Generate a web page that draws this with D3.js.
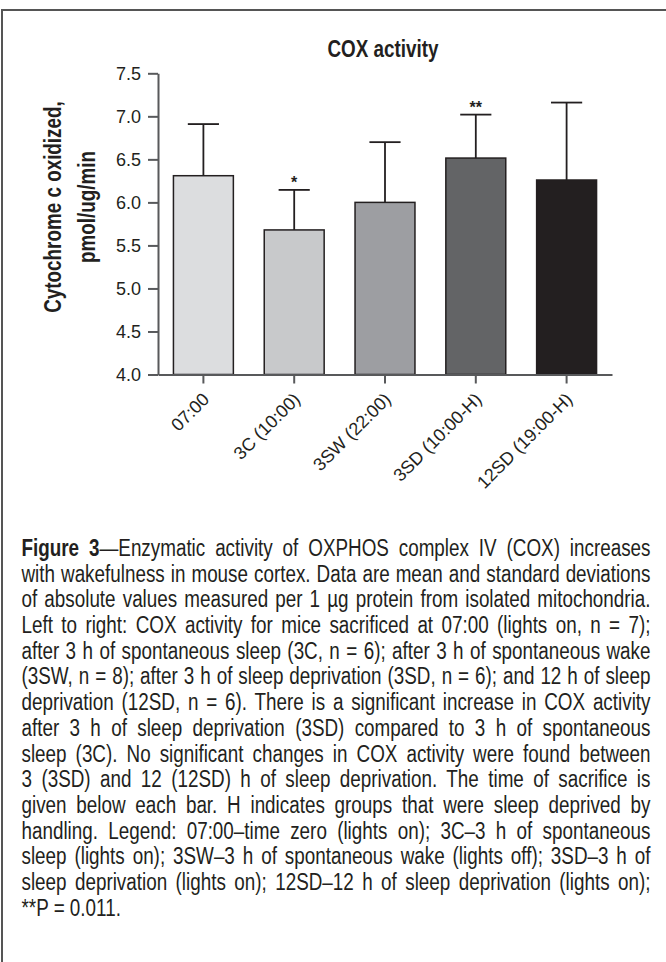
<!DOCTYPE html>
<html>
<head>
<meta charset="utf-8">
<script src="https://cdn.jsdelivr.net/npm/d3@7"></script>
<style>
  body { margin: 0; background: #fff; }
  svg { display: block; }
</style>
</head>
<body>
<div id="chart"></div>
<script>
// data
const groups = ["07:00", "3C (10:00)", "3SW (22:00)", "3SD (10:00-H)", "12SD (19:00-H)"];
const means = [6.31, 5.68, 6.00, 6.515, 6.26];
const sds = [0.60, 0.465, 0.70, 0.505, 0.90];
const stars = ["", "*", "", "**", ""];
const yTicks = [4.0, 4.5, 5.0, 5.5, 6.0, 6.5, 7.0, 7.5];
const captionLines = [
  "Figure 3\u2014Enzymatic activity of OXPHOS complex IV (COX) increases",
  "with wakefulness in mouse cortex. Data are mean and standard deviations",
  "of absolute values measured per 1 \u00b5g protein from isolated mitochondria.",
  "Left to right: COX activity for mice sacrificed at 07:00 (lights on, n = 7);",
  "after 3 h of spontaneous sleep (3C, n = 6); after 3 h of spontaneous wake",
  "(3SW, n = 8); after 3 h of sleep deprivation (3SD, n = 6); and 12 h of sleep",
  "deprivation (12SD, n = 6). There is a significant increase in COX activity",
  "after 3 h of sleep deprivation (3SD) compared to 3 h of spontaneous",
  "sleep (3C). No significant changes in COX activity were found between",
  "3 (3SD) and 12 (12SD) h of sleep deprivation. The time of sacrifice is",
  "given below each bar. H indicates groups that were sleep deprived by",
  "handling. Legend: 07:00\u2013time zero (lights on); 3C\u20133 h of spontaneous",
  "sleep (lights on); 3SW\u20133 h of spontaneous wake (lights off); 3SD\u20133 h of",
  "sleep deprivation (lights on); 12SD\u201312 h of sleep deprivation (lights on);",
  "**P = 0.011."
];

const barColors = ["#dcdddf", "#c8c9cb", "#9d9ea2", "#636466", "#231f20"];
const ink = "#231f20";
const axisColor = "#58595b";
const W = 666, H = 962;
const font = "'Liberation Sans', Arial, sans-serif";

function hasFont(name) {
  const c = document.createElement("canvas").getContext("2d");
  const s = "abcdefghijklmnopqrstuvwxyz0123456789";
  c.font = "40px monospace";
  const a = c.measureText(s).width;
  c.font = `40px '${name}', monospace`;
  return c.measureText(s).width !== a;
}
const narrow = hasFont("Liberation Sans Narrow");
const narrowFont = "'Liberation Sans Narrow', 'Arial Narrow', sans-serif";
const sx = narrow ? 1 : 0.82;

const svg = d3.select("#chart").append("svg")
  .attr("width", W)
  .attr("height", H)
  .style("font-family", font);

// figure frame (top and left edges visible)
svg.append("path")
  .attr("d", `M2,${H} V10 H${W}`)
  .attr("fill", "none")
  .attr("stroke", "#555")
  .attr("stroke-width", 2);

const x = d3.scaleBand()
  .domain(groups)
  .range([158, 612])
  .paddingInner(0.34)
  .paddingOuter(0.17);

const y = d3.scaleLinear()
  .domain([4, 7.5])
  .range([374.5, 73.3]);

// bars
svg.append("g").selectAll("rect")
  .data(groups)
  .join("rect")
    .attr("x", d => x(d))
    .attr("y", (d, i) => y(means[i]))
    .attr("width", x.bandwidth())
    .attr("height", (d, i) => y(4) - y(means[i]))
    .attr("fill", (d, i) => barColors[i])
    .attr("stroke", ink)
    .attr("stroke-width", 1.5);

// error bars (upper only)
const capHalf = x.bandwidth() * 0.26;
const err = svg.append("g").attr("stroke", ink).attr("stroke-width", 1.8);
groups.forEach((g, i) => {
  const cx = x(g) + x.bandwidth() / 2;
  err.append("line")
    .attr("x1", cx).attr("x2", cx)
    .attr("y1", y(means[i])).attr("y2", y(means[i] + sds[i]));
  err.append("line")
    .attr("x1", cx - capHalf).attr("x2", cx + capHalf)
    .attr("y1", y(means[i] + sds[i])).attr("y2", y(means[i] + sds[i]));
});

// significance stars
svg.append("g").selectAll("text")
  .data(groups)
  .join("text")
    .attr("x", d => x(d) + x.bandwidth() / 2)
    .attr("y", (d, i) => y(means[i] + sds[i]) - 2)
    .attr("text-anchor", "middle")
    .attr("font-size", 16)
    .attr("font-weight", "bold")
    .attr("fill", ink)
    .text((d, i) => stars[i]);

// y axis
const yAxis = svg.append("g")
  .attr("transform", "translate(158,0)")
  .call(d3.axisLeft(y).tickValues(yTicks).tickFormat(d3.format(".1f"))
    .tickSize(10).tickSizeOuter(0).tickPadding(7));
yAxis.selectAll("path, line").attr("stroke", axisColor).attr("stroke-width", 2);
yAxis.selectAll("text").attr("font-size", 18).attr("fill", ink).style("font-family", font);

// x axis
const xAxis = svg.append("g")
  .attr("transform", "translate(0,374.5)")
  .call(d3.axisBottom(x).tickSize(9).tickSizeOuter(0));
xAxis.selectAll("path, line").attr("stroke", axisColor).attr("stroke-width", 2);
xAxis.selectAll("text")
  .attr("font-size", 18)
  .attr("fill", ink)
  .style("font-family", font)
  .attr("text-anchor", "end")
  .attr("dy", null)
  .attr("y", null)
  .attr("transform", "translate(7,26) rotate(-45)");

// title
svg.append("text")
  .attr("transform", `translate(383,57) scale(${sx},1)`)
  .attr("text-anchor", "middle")
  .style("font-family", narrow ? narrowFont : font)
  .attr("font-size", 23)
  .attr("font-weight", "bold")
  .attr("fill", ink)
  .text("COX activity");

// y axis title
const yl = svg.append("text")
  .attr("transform", `translate(0,207) rotate(-90) scale(${sx},1)`)
  .attr("text-anchor", "middle")
  .style("font-family", narrow ? narrowFont : font)
  .attr("font-size", 23)
  .attr("font-weight", "bold")
  .attr("fill", ink);
yl.append("tspan").attr("x", 0).attr("y", 61).text("Cytochrome c oxidized,");
yl.append("tspan").attr("x", 0).attr("y", 95).text("pmol/ug/min");

// caption, justified line by line
const capLeft = 21.5, capWidth = 629;
const capG = svg.append("g")
  .attr("transform", `scale(${sx},1)`)
  .style("font-family", narrow ? narrowFont : font)
  .attr("font-size", 23)
  .attr("fill", ink);

captionLines.forEach((line, i) => {
  const t = capG.append("text")
    .attr("x", capLeft / sx)
    .attr("y", 556 + i * 25.7);
  if (i === 0) {
    t.append("tspan").attr("font-weight", "bold").text("Figure 3");
    t.append("tspan").text(line.slice(8));
  } else {
    t.text(line);
  }
  if (i < captionLines.length - 1) {
    const w = t.node().getComputedTextLength();
    const n = (line.match(/ /g) || []).length;
    t.attr("word-spacing", (capWidth / sx - w) / n);
  }
});
</script>
</body>
</html>
